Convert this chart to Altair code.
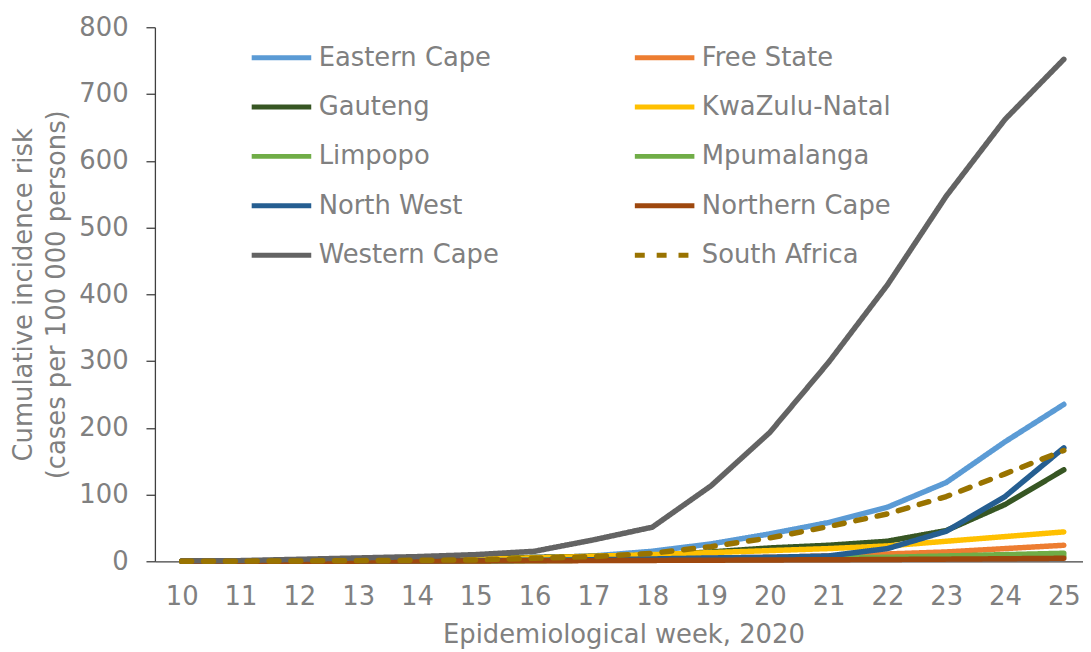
import altair as alt
import pandas as pd

weeks = list(range(10, 26))

provinces = [
    "Eastern Cape", "Free State", "Gauteng", "KwaZulu-Natal", "Limpopo",
    "Mpumalanga", "North West", "Northern Cape", "Western Cape", "South Africa",
]
colors = [
    "#5B9BD5", "#ED7D31", "#375623", "#FFC000", "#70AD47",
    "#70AD47", "#255E91", "#9E480E", "#636363", "#997300",
]

eastern_cape = [0, 0.2, 0.5, 1, 1.5, 2, 4, 8, 15, 26, 41, 58, 81, 118, 179, 235]
free_state = [0.1, 0.2, 0.5, 1, 1.5, 2, 2.5, 3, 4, 5, 6, 8, 11, 14, 19, 24]
gauteng = [0.2, 0.5, 1.5, 2.5, 3.5, 4.5, 6, 7.5, 9, 14, 20, 24, 30, 46, 85, 137]
kwazulu_natal = [0.1, 0.3, 0.8, 1.5, 2.5, 3.5, 5, 7.5, 10, 13, 16, 19, 23, 30, 37, 44]
limpopo = [0, 0.1, 0.2, 0.3, 0.5, 0.7, 1, 1.5, 2, 2.5, 3, 4, 5, 6, 7, 8]
mpumalanga = [0, 0.1, 0.2, 0.4, 0.6, 0.8, 1.2, 1.8, 2.5, 3, 4, 5, 6, 8, 10, 12]
north_west = [0, 0.1, 0.3, 0.5, 0.8, 1, 1.5, 2.5, 3.5, 5, 6, 8, 19, 45, 97, 170]
northern_cape = [0, 0, 0.1, 0.2, 0.3, 0.5, 0.8, 1, 1.3, 1.6, 2, 2.3, 2.7, 3.2, 3.8, 4.5]
western_cape = [0.5, 1, 3, 5, 7, 10, 15, 32, 51, 113, 193, 298, 414, 547, 662, 752]
south_africa = [0, 0.2, 0.5, 1, 1.5, 2, 4.5, 7, 12, 22, 35, 52, 71, 97, 131, 166]

series = [
    eastern_cape, free_state, gauteng, kwazulu_natal, limpopo,
    mpumalanga, north_west, northern_cape, western_cape, south_africa,
]

rows = []
for name, vals in zip(provinces, series):
    for w, v in zip(weeks, vals):
        rows.append({"week": w, "province": name, "value": v})
df = pd.DataFrame(rows)

dashes = [[1, 0]] * 9 + [[10, 12]]

FONT = "DejaVu Sans"
GREY = "#808080"

leg = alt.Legend(
    title=None, orient="none", legendX=95, legendY=-2, columns=2,
    direction="horizontal",
    columnPadding=126, rowPadding=3.8, symbolType="stroke", symbolSize=3600,
    symbolStrokeWidth=5, labelFont=FONT, labelFontSize=26, labelColor=GREY,
    labelOffset=5, padding=0, labelLimit=400,
)

chart = alt.Chart(df).mark_line(
    strokeWidth=5.5, strokeCap="round", strokeJoin="round"
).encode(
    x=alt.X(
        "week:Q",
        scale=alt.Scale(domain=[9.544, 25.326], nice=False, zero=False),
        axis=alt.Axis(
            values=weeks, format="d", title="Epidemiological week, 2020",
            grid=False, ticks=False, tickSize=0, labelBaseline="alphabetic",
            labelPadding=44, titleX=472, titleY=82, titleBaseline="alphabetic",
            titleAlign="center",
        ),
    ),
    y=alt.Y(
        "value:Q",
        scale=alt.Scale(domain=[0, 800], nice=False),
        axis=alt.Axis(
            values=list(range(0, 801, 100)),
            title=["Cumulative incidence risk", "(cases per 100 000 persons)"],
            grid=False, tickSize=9, labelPadding=18, titleX=-124, titleY=269,
            titleAngle=-90, titleBaseline="alphabetic", titleAlign="center",
            titleLineHeight=33,
        ),
    ),
    color=alt.Color("province:N", scale=alt.Scale(domain=provinces, range=colors), legend=leg),
    strokeDash=alt.StrokeDash("province:N", scale=alt.Scale(domain=provinces, range=dashes), legend=leg),
).properties(
    width=935, height=538,
    autosize=alt.AutoSizeParams(type="none"),
    padding={"left": 148, "top": 17, "right": 0, "bottom": 89},
).configure_view(stroke=None).configure_axis(
    labelFont=FONT, labelFontSize=26, labelColor=GREY,
    titleFont=FONT, titleFontSize=26, titleColor=GREY, titleFontWeight="normal",
    domainColor="#404040", tickColor="#404040", domainWidth=1.3, tickWidth=1.3,
)

chart.save("out.html", embed_options={"renderer": "svg", "actions": False})
